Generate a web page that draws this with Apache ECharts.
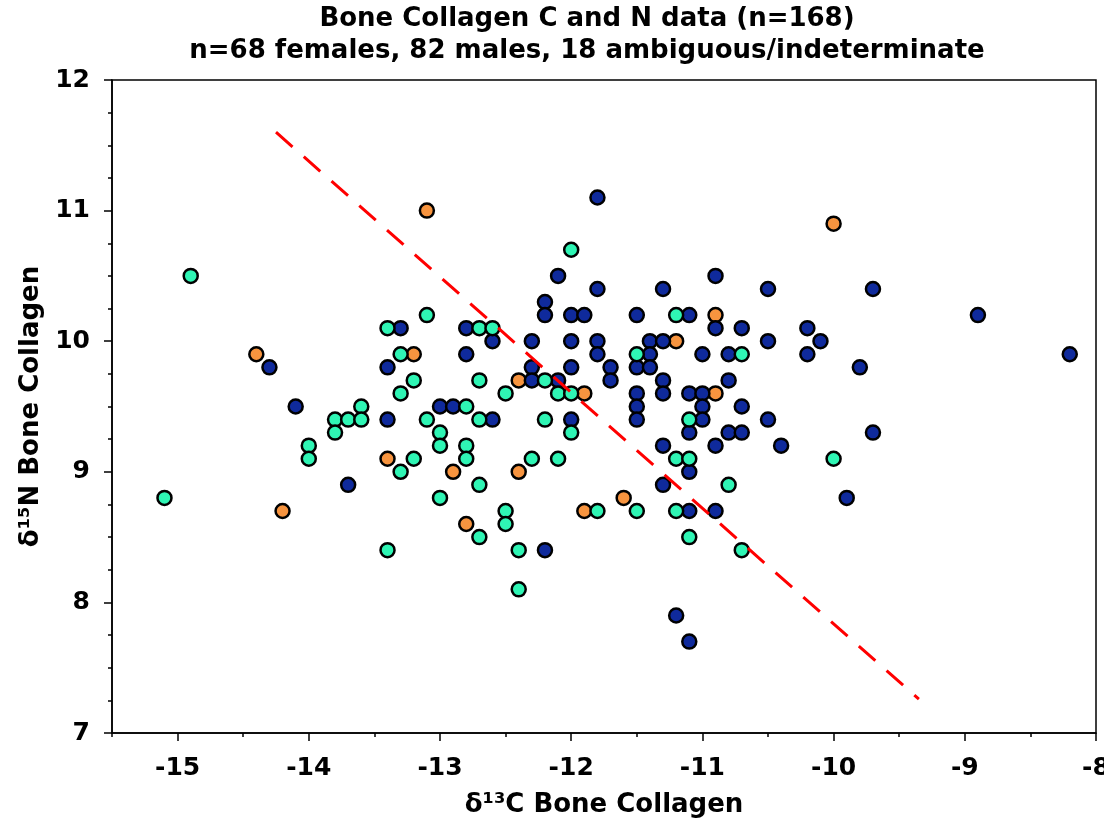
<!DOCTYPE html>
<html>
<head>
<meta charset="utf-8">
<script src="https://cdn.jsdelivr.net/npm/echarts@6/dist/echarts.min.js"></script>
<style>html,body{margin:0;padding:0;background:#fff;overflow:hidden}#c{width:1104px;height:820px}</style>
</head>
<body>
<div id="c"></div>
<script>
const titleLines = ['Bone Collagen C and N data (n=168)', 'n=68 females, 82 males, 18 ambiguous/indeterminate'];
const xName = 'δ¹³C Bone Collagen';
const yName = 'δ¹⁵N Bone Collagen';
const xTicks = [-15, -14, -13, -12, -11, -10, -9, -8];
const xMinorTicks = [-15.5, -14.5, -13.5, -12.5, -11.5, -10.5, -9.5, -8.5];
const yTicks = [7, 8, 9, 10, 11, 12];

// females (teal)
const femaleC = [-14.9,-13.8,-13.7,-13.8,-13.6,-13.6,-14.0,-14.0,-15.1,-13.1,-13.4,-12.7,-12.6,-13.3,-13.2,-12.7,-12.2,-13.3,-12.5,-12.1,-13.1,-12.8,-12.7,-12.2,-13.0,-13.0,-12.8,-12.8,-13.2,-13.3,-12.3,-12.1,-12.7,-13.0,-12.5,-12.5,-12.7,-13.4,-12.4,-12.4,-12.0,-11.2,-11.5,-10.7,-12.0,-11.1,-12.0,-11.2,-11.1,-10.8,-11.8,-11.5,-11.2,-11.1,-10.7,-10.0];
const femaleN = [10.5,9.4,9.4,9.3,9.5,9.4,9.2,9.1,8.8,10.2,10.1,10.1,10.1,9.9,9.7,9.7,9.7,9.6,9.6,9.6,9.4,9.5,9.4,9.4,9.3,9.2,9.2,9.1,9.1,9.0,9.1,9.1,8.9,8.8,8.7,8.6,8.5,8.4,8.4,8.1,10.7,10.2,9.9,9.9,9.6,9.4,9.3,9.1,9.1,8.9,8.7,8.7,8.7,8.5,8.4,9.1];

// males (navy)
const maleC = [-14.3,-14.1,-13.7,-12.1,-12.2,-12.2,-13.3,-12.8,-12.6,-12.3,-12.8,-13.4,-12.3,-12.3,-12.1,-13.4,-13.0,-12.9,-12.6,-12.2,-11.8,-11.8,-11.3,-10.9,-12.0,-11.9,-11.5,-11.1,-10.9,-10.7,-12.0,-11.8,-11.8,-11.4,-11.3,-11.4,-11.0,-10.8,-12.0,-11.7,-11.7,-11.5,-11.4,-11.3,-10.8,-11.5,-11.5,-11.5,-11.3,-11.1,-11.0,-11.0,-11.0,-10.7,-12.0,-11.1,-10.8,-10.7,-11.3,-10.9,-11.1,-11.3,-11.1,-10.9,-11.2,-11.1,-10.5,-9.7,-8.9,-10.2,-10.1,-10.5,-10.2,-8.2,-9.8,-10.5,-9.7,-10.4,-9.9];
const maleN = [9.8,9.5,8.9,10.5,10.3,10.2,10.1,10.1,10.0,10.0,9.9,9.8,9.8,9.7,9.7,9.4,9.5,9.5,9.4,8.4,11.1,10.4,10.4,10.5,10.2,10.2,10.2,10.2,10.1,10.1,10.0,10.0,9.9,10.0,10.0,9.9,9.9,9.9,9.8,9.8,9.7,9.8,9.8,9.7,9.7,9.6,9.5,9.4,9.6,9.6,9.6,9.5,9.4,9.5,9.4,9.3,9.3,9.3,9.2,9.2,9.0,8.9,8.7,8.7,7.9,7.7,10.4,10.4,10.2,10.1,10.0,10.0,9.9,9.9,9.8,9.4,9.3,9.2,8.8];

// ambiguous / indeterminate (orange)
const ambigC = [-14.4,-14.2,-13.1,-13.2,-12.4,-13.4,-12.9,-12.4,-12.8,-11.2,-11.9,-10.9,-10.9,-11.6,-11.9,-10.0];
const ambigN = [9.9,8.7,11.0,9.9,9.7,9.1,9.0,9.0,8.6,10.0,9.6,10.2,9.6,8.8,8.7,10.9];

// dashed separation line endpoints
const lineC = [-14.25, -9.35];
const lineN = [11.6, 7.26];

const pairs = (a, b) => a.map((v, i) => [v, b[i]]);
const FONT = 'DejaVu Sans';
const labelStyle = {color: '#000', fontFamily: FONT, fontWeight: 'bold', fontSize: 25};
const axisLineStyle = {color: '#000', width: 1.5};

const chart = echarts.init(document.getElementById('c'), null, {renderer: 'canvas'});
const mk = (name, c, n, color) => ({
  name, type: 'scatter', data: pairs(c, n), symbol: 'circle', symbolSize: 14,
  itemStyle: {color, borderColor: '#000', borderWidth: 2.5, opacity: 1}, z: 3
});
chart.setOption({
  animation: false,
  backgroundColor: '#fff',
  graphic: [{
    type: 'text', x: 587, y: 3, z: 10,
    style: {text: titleLines.join('\n'), fontFamily: FONT, fontWeight: 'bold', fontSize: 26,
            lineHeight: 32, align: 'center', verticalAlign: 'top', fill: '#000'}
  }],
  grid: {left: 112, right: 8, top: 80, bottom: 87, show: true, borderColor: '#000', borderWidth: 1.5,
         backgroundColor: 'transparent', containLabel: false, outerBoundsMode: 'none'},
  xAxis: [{
    type: 'value', min: -15.5, max: -8, position: 'bottom',
    name: xName, nameLocation: 'middle', nameGap: 59,
    nameTextStyle: {color: '#000', fontFamily: FONT, fontWeight: 'bold', fontSize: 26},
    axisLine: {show: true, onZero: false, lineStyle: axisLineStyle},
    axisTick: {show: true, length: 8, lineStyle: axisLineStyle, customValues: xTicks},
    axisLabel: Object.assign({margin: 23, customValues: xTicks, hideOverlap: false}, labelStyle),
    splitLine: {show: false}
  }, {
    type: 'value', min: -15.5, max: -8, position: 'bottom',
    axisLine: {show: false, onZero: false},
    axisTick: {show: true, length: 4, lineStyle: axisLineStyle, customValues: xMinorTicks},
    axisLabel: {show: false},
    splitLine: {show: false}
  }],
  yAxis: {
    type: 'value', min: 7, max: 12, interval: 1,
    name: yName, nameLocation: 'middle', nameGap: 68,
    nameTextStyle: {color: '#000', fontFamily: FONT, fontWeight: 'bold', fontSize: 26},
    axisLine: {show: true, onZero: false, lineStyle: axisLineStyle},
    axisTick: {show: true, length: 8, lineStyle: axisLineStyle},
    minorTick: {show: true, splitNumber: 4, length: 4, lineStyle: axisLineStyle},
    axisLabel: Object.assign({margin: 22, formatter: v => yTicks.includes(v) ? String(v) : ''}, labelStyle),
    splitLine: {show: false}, minorSplitLine: {show: false}
  },
  series: [
    mk('ambiguous/indeterminate', ambigC, ambigN, '#f7943f'),
    mk('males', maleC, maleN, '#0f2a9c'),
    mk('females', femaleC, femaleN, '#2ff5b4'),
    {
      type: 'line', data: pairs(lineC, lineN), showSymbol: false, symbol: 'none', z: 5,
      lineStyle: {color: '#ff0000', width: 3, type: [22, 15]}, silent: true
    }
  ]
});
</script>
</body>
</html>
